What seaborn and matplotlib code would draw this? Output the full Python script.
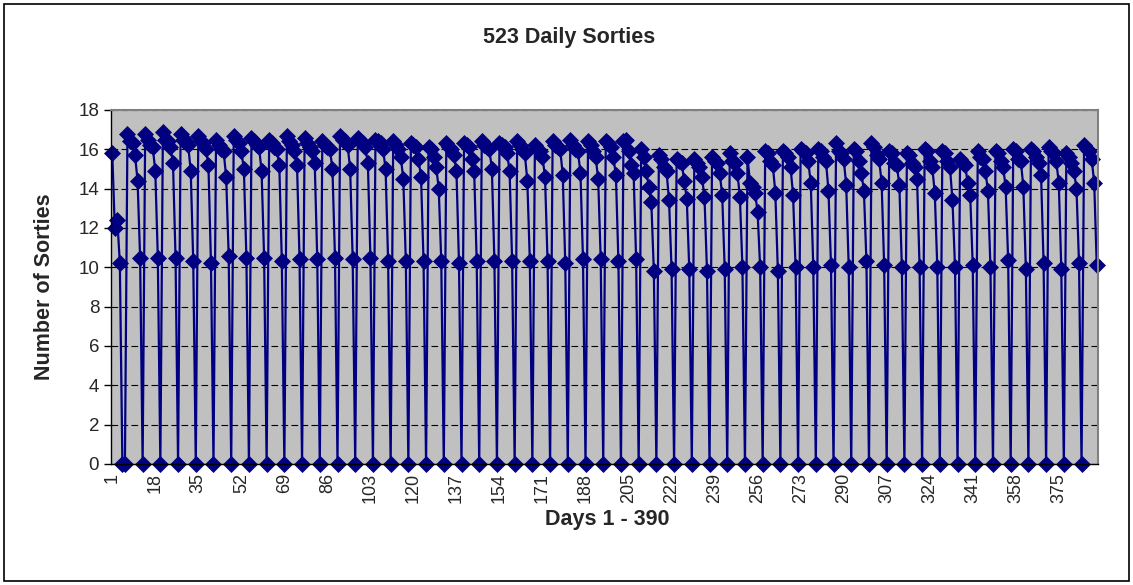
import matplotlib
matplotlib.use("Agg")
import matplotlib.pyplot as plt
from matplotlib.patches import Rectangle
import seaborn as sns
import pandas as pd

# days 1-6 (partial start, then two zero days)
first_days = [15.8, 12.0, 12.4, 10.2, 0, 0]

# Mon-Fri sorties for each week starting at day 7 (last week is partial)
week_highs = [
    [16.8, 16.4, 16.3, 15.7, 14.4],
    [16.8, 16.5, 16.2, 16.1, 14.9],
    [16.9, 16.5, 16.4, 16.1, 15.3],
    [16.8, 16.5, 16.4, 16.2, 14.9],
    [16.7, 16.4, 16.3, 16.0, 15.2],
    [16.5, 16.2, 16.0, 15.9, 14.6],
    [16.7, 16.5, 16.3, 15.9, 15.0],
    [16.6, 16.4, 16.2, 16.1, 14.9],
    [16.5, 16.3, 16.1, 16.0, 15.2],
    [16.7, 16.4, 16.2, 15.9, 15.2],
    [16.6, 16.3, 16.1, 15.9, 15.3],
    [16.4, 16.2, 16.1, 16.0, 15.0],
    [16.7, 16.5, 16.4, 16.2, 15.0],
    [16.6, 16.4, 16.3, 16.1, 15.3],
    [16.5, 16.4, 16.3, 16.0, 15.0],
    [16.4, 16.2, 16.0, 15.6, 14.5],
    [16.3, 16.2, 16.1, 15.5, 14.6],
    [16.1, 16.0, 15.6, 15.1, 14.0],
    [16.3, 16.1, 16.0, 15.7, 14.9],
    [16.3, 16.2, 16.1, 15.5, 14.9],
    [16.4, 16.2, 16.1, 16.0, 15.0],
    [16.3, 16.2, 16.1, 15.8, 14.9],
    [16.4, 16.2, 16.0, 15.8, 14.4],
    [16.2, 16.0, 15.9, 15.6, 14.6],
    [16.4, 16.2, 16.1, 16.0, 14.7],
    [16.5, 16.2, 16.0, 15.9, 14.8],
    [16.4, 16.2, 15.9, 15.6, 14.5],
    [16.4, 16.3, 16.1, 15.6, 14.7],
    [16.4, 16.5, 15.9, 15.2, 14.8],
    [16.0, 15.6, 14.9, 14.1, 13.3],
    [15.7, 15.5, 15.1, 14.9, 13.4],
    [15.5, 15.4, 15.3, 14.4, 13.5],
    [15.5, 15.3, 15.1, 14.6, 13.6],
    [15.6, 15.4, 15.3, 14.8, 13.7],
    [15.8, 15.4, 15.3, 14.8, 13.6],
    [15.6, 14.3, 14.1, 13.8, 12.8],
    [15.9, 15.8, 15.4, 15.2, 13.8],
    [15.9, 15.8, 15.6, 15.1, 13.7],
    [16.0, 15.9, 15.8, 15.4, 14.3],
    [16.0, 15.9, 15.6, 15.4, 13.9],
    [16.3, 15.9, 15.8, 15.5, 14.2],
    [16.0, 15.9, 15.4, 14.8, 13.9],
    [16.3, 16.1, 15.7, 15.5, 14.3],
    [15.9, 15.8, 15.3, 15.2, 14.2],
    [15.8, 15.7, 15.3, 15.1, 14.5],
    [16.0, 15.9, 15.4, 15.1, 13.8],
    [15.9, 15.8, 15.4, 15.1, 13.4],
    [15.5, 15.3, 15.2, 14.3, 13.7],
    [15.9, 15.6, 15.5, 14.9, 13.9],
    [15.9, 15.8, 15.4, 15.1, 14.1],
    [16.0, 15.9, 15.5, 15.4, 14.1],
    [16.0, 15.9, 15.6, 15.3, 14.7],
    [16.1, 15.9, 15.8, 15.4, 14.3],
    [15.8, 15.6, 15.3, 14.9, 14.0],
    [16.2, 16.0, 15.9, 15.5, 14.3],
]

# Saturday sorties for each week
week_saturday = [
    10.5, 10.5, 10.5, 10.3, 10.2, 10.6, 10.5, 10.5, 10.3, 10.4,
    10.4, 10.5, 10.4, 10.5, 10.3, 10.3, 10.3, 10.3, 10.2, 10.3,
    10.3, 10.3, 10.3, 10.3, 10.2, 10.4, 10.4, 10.3, 10.4, 9.8,
    9.9, 9.9, 9.8, 9.9, 10.0, 10.0, 9.8, 10.0, 10.0, 10.1,
    10.0, 10.3, 10.1, 10.0, 10.0, 10.0, 10.0, 10.1, 10.0, 10.35,
    9.9, 10.2, 9.9, 10.2, 10.1,
]

# Sunday: no flying (the final week ends on Saturday, day 390)
week_sunday = [0] * 54

sorties = list(first_days)
for i, highs in enumerate(week_highs):
    sorties += highs + [week_saturday[i]]
    if i < len(week_sunday):
        sorties.append(week_sunday[i])

days = list(range(1, len(sorties) + 1))
df = pd.DataFrame({"day": days, "sorties": sorties})

tick_days = list(range(1, 391, 17))

sns.set_theme(style="white")
plt.rcParams["font.family"] = ["Liberation Sans", "DejaVu Sans"]

fig = plt.figure(figsize=(11.33, 5.85), dpi=100)
ax = fig.add_axes([111 / 1133, 1 - 464 / 585, 987 / 1133, 354 / 585])
ax.set_facecolor("#C0C0C0")

sns.lineplot(data=df, x="day", y="sorties", ax=ax, color="#000080",
             linewidth=1.6, marker="D", markersize=8,
             markeredgecolor="#000080", markeredgewidth=0.5, clip_on=False)

ax.set_xlim(0.5, 390.5)
ax.set_ylim(0, 18)
ax.set_yticks(range(0, 19, 2))
ax.set_xticks(tick_days)
ax.set_xticklabels([str(d) for d in tick_days], rotation=90)
ax.set_xticks([d + 0.5 for d in range(0, 391)], minor=True)

ax.yaxis.grid(True, color="black", linestyle=(0, (6, 3)), linewidth=0.8)
ax.set_axisbelow(True)

ax.tick_params(axis="x", which="major", direction="inout", length=11,
               width=0.5, color="#404040", labelsize=13, pad=1)
ax.tick_params(axis="x", which="minor", direction="inout", length=11,
               width=0.5, color="#404040")
ax.tick_params(axis="y", direction="out", length=5, width=1,
               color="black", labelsize=13.5, left=True)

for side in ["top", "right"]:
    ax.spines[side].set_color("#808080")
    ax.spines[side].set_linewidth(1.5)
for side in ["left", "bottom"]:
    ax.spines[side].set_color("black")
    ax.spines[side].set_linewidth(1)

ax.set_xlabel("")
ax.set_ylabel("")

fig.text(0.502, 1 - 38 / 585, "523 Daily Sorties", ha="center", va="center",
         fontsize=15.5, fontweight="bold")
fig.text(607 / 1133, 1 - 519 / 585, "Days 1 - 390", ha="center", va="center",
         fontsize=15.5, fontweight="bold")
fig.text(45 / 1133, 1 - 287 / 585, "Number of Sorties", ha="center",
         va="center", rotation=90, fontsize=15.5, fontweight="bold")

fig.patches.append(Rectangle((4 / 1133, 4 / 585), 1125 / 1133, 577 / 585,
                             transform=fig.transFigure, fill=False,
                             edgecolor="black", linewidth=1.2))

fig.savefig("out.png", dpi=100, facecolor="white")
